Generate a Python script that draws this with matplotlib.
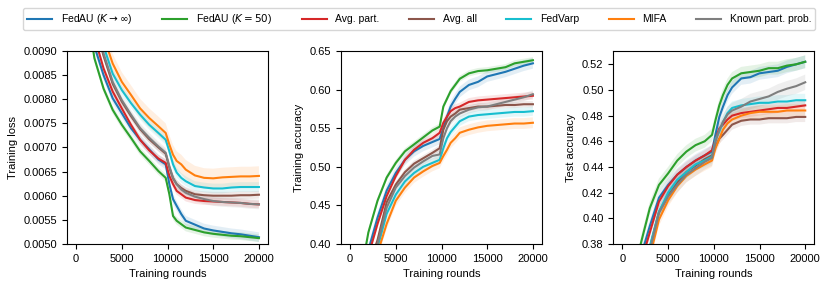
import numpy as np
import matplotlib
matplotlib.use('Agg')
import matplotlib.pyplot as plt
from matplotlib.ticker import FormatStrFormatter

plt.rcParams['font.family'] = ['Liberation Sans', 'DejaVu Sans']
plt.rcParams['font.size'] = 8

rounds = [0, 1000, 2000, 3000, 4000, 5000, 6000, 7000, 8000, 9000, 9800, 10200,
          10600, 11000, 11500, 12000, 13000, 14000, 15000, 16000, 17000, 18000, 19000, 20000]

methods = ['FedAU ($K \\rightarrow \\infty$)', 'FedAU ($K=50$)', 'Avg. part.', 'Avg. all',
           'FedVarp', 'MIFA', 'Known part. prob.']
colors = ['tab:blue', 'tab:green', 'tab:red', 'tab:brown', 'tab:cyan', 'tab:orange', 'tab:gray']

# training loss
loss_fedau_inf = [0.0130, 0.0105, 0.0091, 0.00850, 0.00802, 0.00771, 0.00740, 0.00716, 0.00696, 0.00675, 0.00665, 0.00624,
                  0.00593, 0.00579, 0.00562, 0.00548, 0.00540, 0.00532, 0.00528, 0.00525, 0.00522, 0.00520, 0.00517, 0.00514]
loss_fedau_50 = [0.0125, 0.0101, 0.00885, 0.00822, 0.00778, 0.00747, 0.00720, 0.00692, 0.00672, 0.00651, 0.00637, 0.00603,
                 0.00558, 0.00548, 0.00541, 0.00534, 0.00529, 0.00524, 0.00521, 0.00519, 0.00517, 0.00516, 0.00514, 0.00512]
loss_avg_part = [0.0132, 0.0107, 0.0093, 0.00864, 0.00816, 0.00781, 0.00747, 0.00716, 0.00694, 0.00677, 0.00668, 0.00641,
                 0.00624, 0.00610, 0.00603, 0.00596, 0.00591, 0.00589, 0.00588, 0.00587, 0.00586, 0.00585, 0.00583, 0.00582]
loss_avg_all = [0.0135, 0.0110, 0.0096, 0.00890, 0.00832, 0.00795, 0.00765, 0.00738, 0.00717, 0.00700, 0.00687, 0.00658,
                0.00636, 0.00624, 0.00616, 0.00610, 0.00603, 0.00601, 0.00600, 0.00600, 0.00600, 0.00601, 0.00601, 0.00602]
loss_fedvarp = [0.0138, 0.0113, 0.0099, 0.00910, 0.00853, 0.00819, 0.00792, 0.00768, 0.00747, 0.00730, 0.00716, 0.00692,
                0.00665, 0.00648, 0.00637, 0.00630, 0.00620, 0.00617, 0.00615, 0.00615, 0.00617, 0.00618, 0.00618, 0.00618]
loss_mifa = [0.0140, 0.0116, 0.0102, 0.00930, 0.00874, 0.00836, 0.00809, 0.00781, 0.00761, 0.00744, 0.00730, 0.00706,
             0.00685, 0.00672, 0.00665, 0.00654, 0.00642, 0.00637, 0.00636, 0.00638, 0.00639, 0.00640, 0.00640, 0.00641]
loss_known = [0.0135, 0.0110, 0.0096, 0.00895, 0.00836, 0.00798, 0.00768, 0.00740, 0.00720, 0.00702, 0.00689, 0.00661,
              0.00637, 0.00624, 0.00613, 0.00606, 0.00598, 0.00593, 0.00589, 0.00587, 0.00586, 0.00585, 0.00583, 0.00582]

# training accuracy
tacc_fedau_inf = [0.20, 0.33, 0.392, 0.434, 0.469, 0.492, 0.509, 0.520, 0.527, 0.532, 0.536, 0.550,
                  0.565, 0.578, 0.588, 0.597, 0.606, 0.610, 0.617, 0.620, 0.623, 0.627, 0.631, 0.634]
tacc_fedau_50 = [0.20, 0.35, 0.415, 0.456, 0.486, 0.505, 0.520, 0.529, 0.538, 0.547, 0.552, 0.578,
                 0.588, 0.598, 0.606, 0.614, 0.621, 0.624, 0.625, 0.627, 0.629, 0.634, 0.636, 0.638]
tacc_avg_part = [0.19, 0.32, 0.385, 0.426, 0.462, 0.488, 0.509, 0.522, 0.531, 0.537, 0.544, 0.557,
                 0.565, 0.572, 0.576, 0.578, 0.584, 0.586, 0.587, 0.588, 0.589, 0.590, 0.591, 0.592]
tacc_avg_all = [0.18, 0.30, 0.370, 0.405, 0.454, 0.477, 0.493, 0.504, 0.511, 0.518, 0.524, 0.548,
                0.559, 0.565, 0.569, 0.574, 0.576, 0.578, 0.578, 0.579, 0.580, 0.580, 0.581, 0.581]
tacc_fedvarp = [0.17, 0.29, 0.355, 0.395, 0.439, 0.464, 0.481, 0.492, 0.500, 0.505, 0.509, 0.524,
                0.537, 0.545, 0.552, 0.559, 0.565, 0.567, 0.568, 0.569, 0.570, 0.571, 0.571, 0.572]
tacc_mifa = [0.16, 0.28, 0.345, 0.388, 0.426, 0.456, 0.473, 0.486, 0.494, 0.501, 0.505, 0.514,
             0.522, 0.531, 0.537, 0.544, 0.548, 0.551, 0.553, 0.554, 0.555, 0.556, 0.556, 0.557]
tacc_known = [0.18, 0.30, 0.365, 0.400, 0.447, 0.473, 0.488, 0.499, 0.507, 0.514, 0.516, 0.537,
              0.550, 0.559, 0.565, 0.569, 0.574, 0.577, 0.578, 0.581, 0.584, 0.587, 0.590, 0.594]

# test accuracy
vacc_fedau_inf = [0.24, 0.32, 0.370, 0.394, 0.416, 0.426, 0.434, 0.440, 0.445, 0.449, 0.452, 0.466,
                  0.479, 0.487, 0.496, 0.502, 0.509, 0.510, 0.513, 0.514, 0.515, 0.518, 0.520, 0.522]
vacc_fedau_50 = [0.25, 0.33, 0.380, 0.408, 0.426, 0.435, 0.445, 0.452, 0.457, 0.460, 0.465, 0.477,
                 0.488, 0.496, 0.504, 0.509, 0.513, 0.514, 0.515, 0.517, 0.517, 0.519, 0.520, 0.522]
vacc_avg_part = [0.24, 0.31, 0.365, 0.389, 0.413, 0.425, 0.434, 0.440, 0.445, 0.449, 0.453, 0.462,
                 0.470, 0.473, 0.477, 0.480, 0.482, 0.483, 0.484, 0.485, 0.486, 0.486, 0.487, 0.488]
vacc_avg_all = [0.22, 0.29, 0.345, 0.377, 0.405, 0.418, 0.428, 0.436, 0.441, 0.446, 0.449, 0.456,
                0.462, 0.465, 0.469, 0.473, 0.476, 0.477, 0.477, 0.478, 0.478, 0.478, 0.479, 0.479]
vacc_fedvarp = [0.23, 0.30, 0.350, 0.378, 0.405, 0.420, 0.430, 0.436, 0.442, 0.445, 0.448, 0.462,
                0.4675, 0.475, 0.482, 0.486, 0.488, 0.489, 0.490, 0.490, 0.491, 0.491, 0.492, 0.492]
vacc_mifa = [0.21, 0.28, 0.335, 0.370, 0.399, 0.414, 0.425, 0.433, 0.438, 0.442, 0.445, 0.455,
             0.462, 0.469, 0.474, 0.477, 0.480, 0.482, 0.483, 0.483, 0.483, 0.484, 0.484, 0.484]
vacc_known = [0.22, 0.29, 0.345, 0.375, 0.404, 0.417, 0.426, 0.434, 0.439, 0.444, 0.447, 0.460,
              0.469, 0.475, 0.481, 0.484, 0.487, 0.491, 0.493, 0.495, 0.4985, 0.501, 0.503, 0.506]

# half width of the shaded std band, one per method
loss_std = [0.00010, 0.00008, 0.00008, 0.00008, 0.00010, 0.00020, 0.00010]
tacc_std = [0.007, 0.004, 0.005, 0.004, 0.006, 0.007, 0.005]
vacc_std = [0.005, 0.005, 0.004, 0.004, 0.005, 0.005, 0.006]

panels = [
    ([loss_fedau_inf, loss_fedau_50, loss_avg_part, loss_avg_all, loss_fedvarp, loss_mifa, loss_known],
     loss_std, 'Training loss', (0.005, 0.009), np.arange(0.005, 0.00901, 0.0005), '%.4f'),
    ([tacc_fedau_inf, tacc_fedau_50, tacc_avg_part, tacc_avg_all, tacc_fedvarp, tacc_mifa, tacc_known],
     tacc_std, 'Training accuracy', (0.40, 0.65), np.arange(0.40, 0.651, 0.05), '%.2f'),
    ([vacc_fedau_inf, vacc_fedau_50, vacc_avg_part, vacc_avg_all, vacc_fedvarp, vacc_mifa, vacc_known],
     vacc_std, 'Test accuracy', (0.38, 0.5304), np.arange(0.38, 0.521, 0.02), '%.2f'),
]

fig = plt.figure(figsize=(8.31, 2.88), dpi=100)
lefts = [0.0806, 0.4103, 0.738]
width = 0.242

x = np.array(rounds)
for i, (series, stds, ylabel, ylim, yticks, fmt) in enumerate(panels):
    ax = fig.add_axes([lefts[i], 0.153, width, 0.670])
    for vals, s, c, name in zip(series, stds, colors, methods):
        y = np.array(vals)
        ax.fill_between(x, y - s, y + s, color=c, alpha=0.12, linewidth=0)
        ax.plot(x, y, color=c, linewidth=1.5, label=name)
    ax.set_ylim(*ylim)
    ax.set_xlim(-1000, 21000)
    ax.set_xticks([0, 5000, 10000, 15000, 20000])
    ax.set_yticks(yticks)
    ax.yaxis.set_major_formatter(FormatStrFormatter(fmt))
    ax.set_xlabel('Training rounds')
    ax.set_ylabel(ylabel)
    if i == 0:
        handles, labels = ax.get_legend_handles_labels()

fig.legend(handles, labels, loc='upper center', bbox_to_anchor=(0.5045, 0.972), ncol=7,
           fontsize=7.5, handlelength=2.4, columnspacing=2.87, frameon=True,
           borderaxespad=0)

fig.savefig('out.png', dpi=100)
